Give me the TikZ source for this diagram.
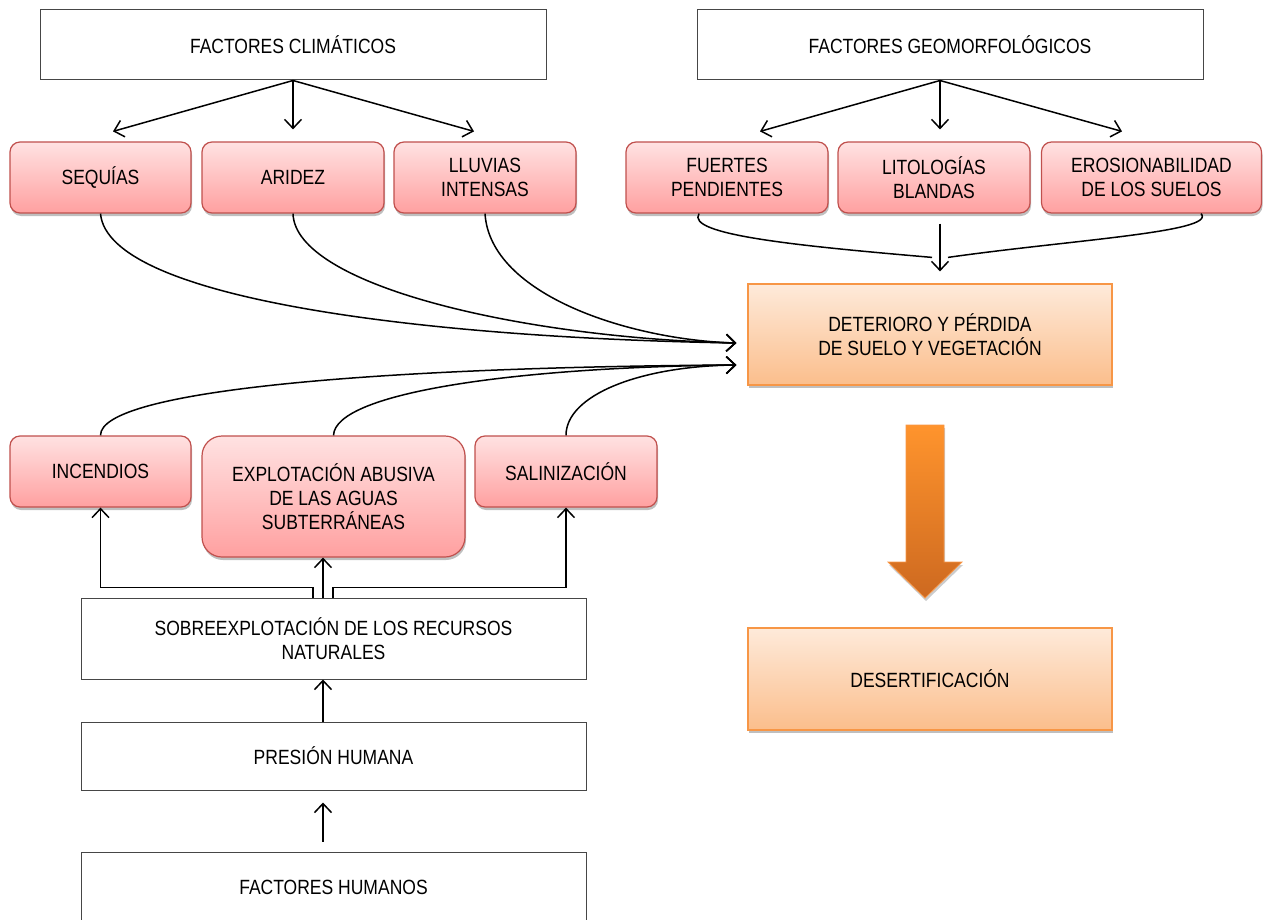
\documentclass[tikz,border=0pt]{standalone}
\usepackage{fontspec}
\setmainfont[FakeStretch=0.85]{Liberation Sans}
\usetikzlibrary{arrows.meta,calc,shadows}
\definecolor{pinktop}{RGB}{255,226,226}
\definecolor{pinkbot}{RGB}{255,160,160}
\definecolor{pinkline}{RGB}{192,80,77}
\definecolor{orgtop}{RGB}{254,234,218}
\definecolor{orgbot}{RGB}{251,190,140}
\definecolor{orgline}{RGB}{247,150,70}
\definecolor{arrtop}{RGB}{255,148,45}
\definecolor{arrbot}{RGB}{205,105,32}
\definecolor{plainline}{RGB}{70,70,70}
\tikzset{
  txt/.style={font=\fontsize{20.6}{24}\selectfont, align=center, text=black, inner sep=0pt},
  plainbox/.style={txt, draw=plainline, line width=1pt, fill=white},
  pinkbox/.style={txt, draw=pinkline, line width=1.2pt, rounded corners=10pt,
     top color=pinktop, bottom color=pinkbot,
     drop shadow={shadow xshift=1pt, shadow yshift=-3pt, opacity=0.25, fill=black}},
  orgbox/.style={txt, draw=orgline, line width=1.2pt,
     top color=orgtop, bottom color=orgbot,
     drop shadow={shadow xshift=1pt, shadow yshift=-3pt, opacity=0.25, fill=black}},
  conn/.style={line width=1.5pt, black},
  arr/.style={conn, -{Straight Barb[length=9pt,width=17pt,line width=1.5pt]}},
}
\begin{document}
\begin{tikzpicture}[x=1pt,y=1pt]
\useasboundingbox (0,0) rectangle (1263,-920);
% top boxes
\node[plainbox, minimum width=506pt, minimum height=70pt] (fc) at (293,-45) {FACTORES CLIMÁTICOS};
\node[plainbox, minimum width=506pt, minimum height=70pt] (fg) at (950,-45) {FACTORES GEOMORFOLÓGICOS};
% pink factor boxes
\node[pinkbox, minimum width=181pt, minimum height=71pt] (seq) at (100.5,-177.5) {SEQUÍAS};
\node[pinkbox, minimum width=182pt, minimum height=71pt] (ari) at (293,-177.5) {ARIDEZ};
\node[pinkbox, minimum width=182pt, minimum height=71pt] (llu) at (485,-177.5) {LLUVIAS\\INTENSAS};
\node[pinkbox, minimum width=202pt, minimum height=71pt] (fue) at (727,-177.5) {FUERTES\\PENDIENTES};
\node[pinkbox, minimum width=192pt, minimum height=71pt] (lit) at (934,-177.5) {LITOLOGÍAS\\BLANDAS};
\node[pinkbox, minimum width=220pt, minimum height=71pt] (ero) at (1151.5,-177.5) {EROSIONABILIDAD\\DE LOS SUELOS};
% orange boxes
\node[orgbox, minimum width=364pt, minimum height=101pt] (det) at (930,-334.5) {DETERIORO Y PÉRDIDA\\DE SUELO Y VEGETACIÓN};
\node[orgbox, minimum width=364pt, minimum height=102pt] (des) at (930,-679) {DESERTIFICACIÓN};
% human factor boxes
\node[pinkbox, minimum width=181pt, minimum height=71pt] (inc) at (100.5,-471.5) {INCENDIOS};
\node[pinkbox, rounded corners=20pt, minimum width=263pt, minimum height=121pt] (exp) at (333.5,-496.5) {EXPLOTACIÓN ABUSIVA\\DE LAS AGUAS\\SUBTERRÁNEAS};
\node[pinkbox, minimum width=182pt, minimum height=71pt] (sal) at (566,-471.5) {SALINIZACIÓN};
\node[plainbox, minimum width=505pt, minimum height=81pt] (sob) at (333.5,-638.5) {SOBREEXPLOTACIÓN DE LOS RECURSOS\\NATURALES};
\node[plainbox, minimum width=505pt, minimum height=68pt] (pre) at (333.5,-756) {PRESIÓN HUMANA};
\node[plainbox, minimum width=505pt, minimum height=70pt] (fh) at (333.5,-887) {FACTORES HUMANOS};
% big arrow
\path[draw=orgline, line width=0.8pt, top color=arrtop, bottom color=arrbot,
      drop shadow={shadow xshift=1pt, shadow yshift=-3pt, opacity=0.2, fill=black}]
  (906,-425) -- (944,-425) -- (944,-562) -- (962,-562) -- (925,-598) -- (888,-562) -- (906,-562) -- cycle;
% climatic arrows
\coordinate (fcb) at ($(fc.south)$);
\draw[arr] (fcb) -- ($(seq.north)+(12.5,10)$);
\draw[arr] (fcb) -- ($(ari.north)+(0,12)$);
\draw[arr] (fcb) -- ($(llu.north)+(-11,10)$);
% geomorph arrows
\coordinate (fgb) at ($(fg.south)+(-10,0)$);
\draw[arr] (fgb) -- ($(fue.north)+(33,10)$);
\draw[arr] (fgb) -- ($(lit.north)+(6,12)$);
\draw[arr] (fgb) -- ($(ero.north)+(-29.5,10)$);
% into deterioro from geomorph
\coordinate (gtip) at ($(det.north)+(10,12)$);
\draw[arr] ($(lit.south)+(6,-10)$) -- (gtip);
\draw[conn] ($(fue.south)+(-28,0)$) .. controls (685,-235) and (800,-246) .. ($(gtip)+(-8,14)$);
\draw[conn] ($(ero.south)+(49.5,0)$) .. controls (1218,-232) and (1070,-240) .. ($(gtip)+(8,14)$);
% climatic curves into deterioro
\coordinate (in1) at ($(det.west)+(-11,-8.5)$);
\coordinate (in2) at ($(det.west)+(-11,-30.5)$);
\draw[arr] (seq.south) .. controls (108,-300) and (430,-338) .. (in1);
\draw[arr] (ari.south) .. controls (295,-285) and (520,-338) .. (in1);
\draw[arr] (llu.south) .. controls (490,-295) and (630,-340) .. (in1);
% human curves into deterioro
\draw[arr] (inc.north) .. controls (100,-390) and (380,-367) .. (in2);
\draw[arr] (exp.north) .. controls (335,-392) and (520,-367) .. (in2);
\draw[arr] (sal.north) .. controls (566,-395) and (640,-366) .. (in2);
% sobreexplotacion branches
\draw[arr] ($(sob.north)+(-20.5,0)$) -- ++(0,10) -| (inc.south);
\draw[arr] ($(sob.north)+(-10.5,0)$) -- ($(exp.south)+(-10.5,0)$);
\draw[arr] ($(sob.north)+(-0.5,0)$) -- ++(0,10) -| (sal.south);
% human chain
\draw[arr] ($(pre.north)+(-10.5,0)$) -- ($(sob.south)+(-10.5,0)$);
\draw[arr, shorten <=10pt, shorten >=12pt] ($(fh.north)+(-10.5,0)$) -- ($(pre.south)+(-10.5,0)$);
\end{tikzpicture}
\end{document}
